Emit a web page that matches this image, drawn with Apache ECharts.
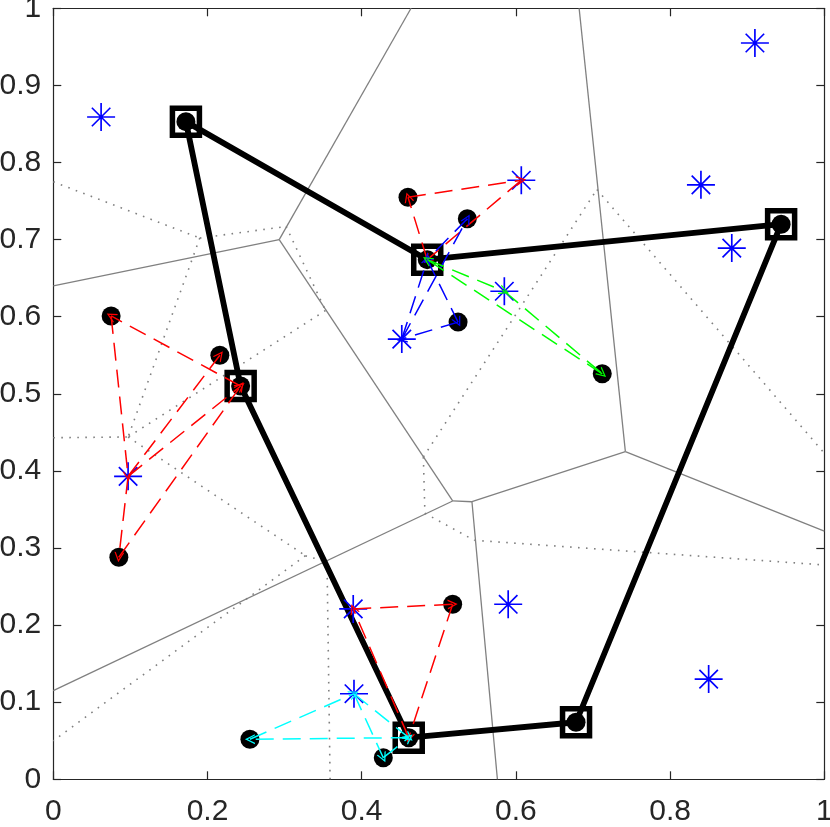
<!DOCTYPE html>
<html lang="en">
<head>
    <meta charset="UTF-8">
    <title>Routes and Voronoi cells</title>
    <script src="https://cdn.jsdelivr.net/npm/echarts@6.0.0/dist/echarts.min.js"></script>
    <style>
        html, body { margin: 0; padding: 0; background: #fff; }
        #main { width: 830px; height: 827px; }
    </style>
</head>
<body>
<div id="main"></div>
<script>
    // depots, in route order (closed tour)
    let routeX = [0.172, 0.485, 0.944, 0.678, 0.461, 0.243, 0.172];
    let routeY = [0.853, 0.674, 0.720, 0.074, 0.054, 0.510, 0.853];

    // black points (depots first)
    let dotX = [0.172, 0.485, 0.944, 0.678, 0.461, 0.243, 0.460, 0.537, 0.525, 0.712, 0.075, 0.216, 0.085, 0.518, 0.255, 0.428];
    let dotY = [0.853, 0.674, 0.720, 0.074, 0.054, 0.510, 0.755, 0.727, 0.593, 0.526, 0.601, 0.550, 0.288, 0.227, 0.052, 0.028];

    // blue asterisks
    let starX = [0.062, 0.910, 0.607, 0.840, 0.880, 0.585, 0.452, 0.097, 0.389, 0.590, 0.390, 0.850];
    let starY = [0.859, 0.955, 0.777, 0.771, 0.689, 0.633, 0.571, 0.393, 0.221, 0.227, 0.111, 0.130];

    // voronoi edges [x1, y1, x2, y2]
    let solidEdges = [
        [0.464, 1.000, 0.293, 0.700],
        [0.293, 0.700, 0.000, 0.640],
        [0.293, 0.700, 0.518, 0.361],
        [0.518, 0.361, 0.543, 0.360],
        [0.543, 0.360, 0.576, 0.000],
        [0.543, 0.360, 0.742, 0.425],
        [0.742, 0.425, 0.682, 1.000],
        [0.742, 0.425, 1.000, 0.322],
        [0.518, 0.361, 0.000, 0.115]
    ];
    let dottedEdges = [
        [0.000, 0.775, 0.190, 0.702],
        [0.190, 0.702, 0.302, 0.717],
        [0.190, 0.702, 0.097, 0.444],
        [0.302, 0.717, 0.353, 0.608],
        [0.353, 0.608, 0.097, 0.444],
        [0.000, 0.443, 0.097, 0.444],
        [0.097, 0.444, 0.327, 0.290],
        [0.327, 0.290, 0.000, 0.050],
        [0.327, 0.290, 0.355, 0.282],
        [0.355, 0.282, 0.359, 0.000],
        [0.482, 0.345, 0.546, 0.310],
        [0.546, 0.310, 1.000, 0.278],
        [0.480, 0.418, 0.482, 0.345],
        [0.480, 0.418, 0.705, 0.765],
        [0.705, 0.765, 1.000, 0.423]
    ];

    // dashed arrows [fromX, fromY, toX, toY]
    let redArrows = [
        [0.243, 0.510, 0.075, 0.601],
        [0.075, 0.601, 0.097, 0.393],
        [0.097, 0.393, 0.085, 0.288],
        [0.085, 0.288, 0.243, 0.510],
        [0.097, 0.393, 0.243, 0.510],
        [0.097, 0.393, 0.216, 0.550],
        [0.485, 0.674, 0.460, 0.755],
        [0.460, 0.755, 0.607, 0.777],
        [0.607, 0.777, 0.485, 0.674],
        [0.461, 0.054, 0.389, 0.221],
        [0.389, 0.221, 0.518, 0.227],
        [0.518, 0.227, 0.461, 0.054]
    ];
    let blueArrows = [
        [0.485, 0.674, 0.525, 0.593],
        [0.525, 0.593, 0.452, 0.571],
        [0.452, 0.571, 0.485, 0.674],
        [0.452, 0.571, 0.537, 0.727],
        [0.537, 0.727, 0.485, 0.674]
    ];
    let greenArrows = [
        [0.485, 0.674, 0.585, 0.633],
        [0.585, 0.633, 0.712, 0.526],
        [0.712, 0.526, 0.485, 0.674]
    ];
    let cyanArrows = [
        [0.461, 0.054, 0.255, 0.052],
        [0.255, 0.052, 0.390, 0.111],
        [0.390, 0.111, 0.461, 0.054],
        [0.390, 0.111, 0.428, 0.028],
        [0.428, 0.028, 0.461, 0.054]
    ];

    let xTicks = [0, 0.2, 0.4, 0.6, 0.8, 1];
    let yTicks = [0, 0.1, 0.2, 0.3, 0.4, 0.5, 0.6, 0.7, 0.8, 0.9, 1];

    let axisColor = "#262626";
    let starPath = "path://M0,47 L100,47 L100,53 L0,53 Z M47,0 L53,0 L53,100 L47,100 Z " +
        "M19.1,14.9 L85.1,80.9 L80.9,85.1 L14.9,19.1 Z M80.9,14.9 L85.1,19.1 L19.1,85.1 L14.9,80.9 Z";
    let headPath = "path://M5,0 L10,10 L8.6,10 L5,2.8 L1.4,10 L0,10 Z";

    function pairs(xs, ys) {
        return xs.map((x, i) => [x, ys[i]]);
    }

    function segs(list) {
        return list.map(e => ({coords: [[e[0], e[1]], [e[2], e[3]]]}));
    }

    function edgeSeries(list, style) {
        return {
            type: "lines",
            coordinateSystem: "cartesian2d",
            data: segs(list),
            symbol: "none",
            lineStyle: style,
            silent: true
        };
    }

    function arrowSeries(list, color) {
        return {
            type: "lines",
            coordinateSystem: "cartesian2d",
            data: segs(list),
            symbol: ["none", headPath],
            symbolSize: 10,
            lineStyle: {color: color, width: 1.5, type: [18, 9], opacity: 1},
            z: 10,
            silent: true
        };
    }

    function makeAxis(pos, ticks, showLabel) {
        return {
            type: "value",
            position: pos,
            min: 0,
            max: 1,
            interval: ticks[1] - ticks[0],
            axisLine: {show: true, onZero: false, lineStyle: {color: axisColor, width: 1.2}},
            axisTick: {show: true, inside: true, length: 8, lineStyle: {color: axisColor, width: 1.2}},
            splitLine: {show: false},
            axisLabel: {
                show: showLabel,
                color: axisColor,
                fontFamily: "Liberation Sans",
                fontSize: 30,
                margin: (pos === "bottom") ? 17 : 12,
                formatter: v => String(Math.round(v * 10) / 10)
            }
        };
    }

    let chart = echarts.init(document.getElementById("main"));
    chart.setOption({
        animation: false,
        backgroundColor: "#fff",
        grid: {
            left: 53.3, right: 5.7, top: 8.3, bottom: 47.7,
            containLabel: false, outerBoundsMode: "none",
            show: true, backgroundColor: "#fff", borderWidth: 0
        },
        xAxis: [makeAxis("bottom", xTicks, true), makeAxis("top", xTicks, false)],
        yAxis: [makeAxis("left", yTicks, true), makeAxis("right", yTicks, false)],
        series: [
            edgeSeries(solidEdges, {color: "#808080", width: 1.3, type: "solid", opacity: 1}),
            edgeSeries(dottedEdges, {color: "#808080", width: 1.6, type: [1.6, 6.4], opacity: 1}),
            {
                type: "line",
                data: pairs(routeX, routeY),
                symbol: "none",
                lineStyle: {color: "#000", width: 5.8},
                z: 4,
                silent: true
            },
            {
                type: "scatter",
                data: pairs(routeX.slice(0, 6), routeY.slice(0, 6)),
                symbol: "rect",
                symbolSize: 27,
                itemStyle: {color: "rgba(0,0,0,0)", borderColor: "#000", borderWidth: 5.5, opacity: 1},
                z: 5,
                silent: true
            },
            {
                type: "scatter",
                data: pairs(dotX, dotY),
                symbol: "circle",
                symbolSize: 19,
                itemStyle: {color: "#000", opacity: 1},
                z: 6,
                silent: true
            },
            {
                type: "scatter",
                data: pairs(starX, starY),
                symbol: starPath,
                symbolSize: 28,
                itemStyle: {color: "#0000ff", opacity: 1},
                z: 7,
                silent: true
            },
            arrowSeries(redArrows, "#ff0000"),
            arrowSeries(blueArrows, "#0000ff"),
            arrowSeries(greenArrows, "#00ff00"),
            arrowSeries(cyanArrows, "#00ffff")
        ]
    });
</script>
</body>
</html>
